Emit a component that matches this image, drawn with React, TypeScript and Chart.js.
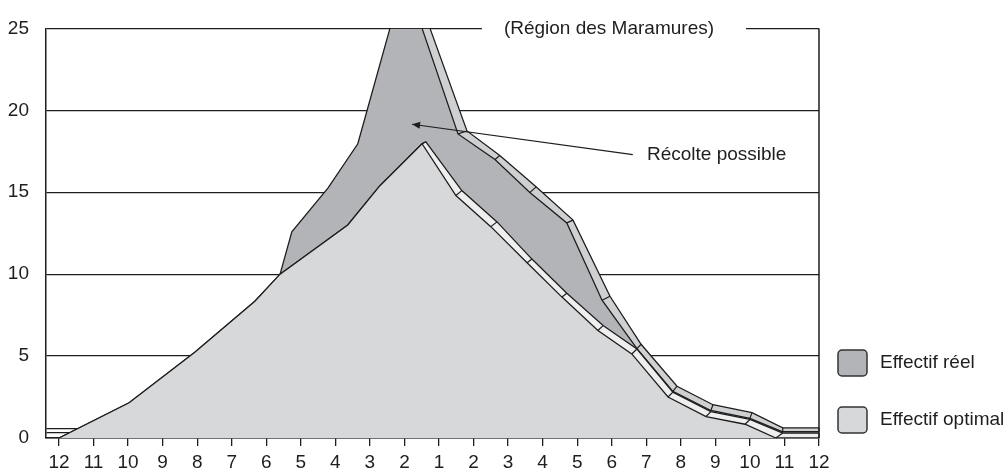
import { useEffect, useRef } from 'react';
import { Chart, registerables } from 'chart.js';

Chart.register(...registerables);

// ---------- data ----------
const xLabels = ['12', '11', '10', '9', '8', '7', '6', '5', '4', '3', '2', '1', '2', '3', '4', '5', '6', '7', '8', '9', '10', '11', '12'];
const yTicks = [0, 5, 10, 15, 20, 25];
const floorLevels = [0.3, 0.6];

// Effectif optimal (light area) – outline
const optimalX = [0, 2.03, 3.94, 5.67, 6.4, 8.36, 9.29, 10.51, 11.49, 12.5, 13.55, 14.56, 15.6, 16.58, 17.63, 18.73, 19.86, 20.75, 22];
const optimalY = [0, 2.15, 5.25, 8.35, 10.0, 13.0, 15.4, 17.96, 14.8, 12.9, 10.7, 8.6, 6.56, 5.13, 2.5, 1.31, 0.84, 0, 0];
// outer line of the light relief band (descending side)
const optimalEdgeX = [10.62, 11.66, 12.68, 13.69, 14.7, 15.75, 16.73, 17.77, 18.87, 20.0, 20.95, 22];
const optimalEdgeY = [18.08, 15.1, 13.19, 10.92, 8.83, 6.86, 5.43, 2.8, 1.61, 1.13, 0.3, 0.3];

// Effectif réel (dark area) – outline
const reelX = [6.4, 6.74, 7.79, 8.65, 9.58, 10.51, 11.55, 12.62, 13.63, 14.7, 15.72, 16.73, 17.77, 18.87, 20.0, 20.95, 22];
const reelY = [10.0, 12.59, 15.27, 17.96, 25, 25, 18.56, 17.0, 14.98, 13.13, 8.41, 5.45, 2.85, 1.68, 1.2, 0.38, 0.38];
// outer line of the dark relief band
const reelEdgeX = [10.74, 11.81, 12.76, 13.81, 14.88, 15.95, 16.85, 17.89, 18.93, 20.06, 20.95, 22];
const reelEdgeY = [25, 18.74, 17.24, 15.33, 13.3, 8.65, 5.72, 3.16, 2.03, 1.55, 0.62, 0.62];

const chartTitle = '(Région des Maramures)';
const titleAt = { x: 15.92, y: 25 };
const noteText = 'Récolte possible';
const noteAt = { x: 17.02, y: 17.3 };
const arrowFrom = { x: 16.61, y: 17.3 };
const arrowTo = { x: 10.22, y: 19.15 };

const legendItems = ['Effectif réel', 'Effectif optimal'];

// ---------- style ----------
const INK = '#1e1e1e';
const LIGHT = '#d7d8da';
const DARK = '#b3b4b7';
const BAND_WHITE = '#efefef';
const BAND_GRAY = '#cfd0d2';
const FONT_FAMILY = '"Liberation Sans", Arial, Helvetica, sans-serif';
const FONT_SIZE = 19;
const FONT = `${FONT_SIZE}px ${FONT_FAMILY}`;

const toPts = (xs: number[], ys: number[]) => xs.map((x, i) => ({ x, y: ys[i] }));

export default function App() {
  const ref = useRef<HTMLCanvasElement>(null);

  useEffect(() => {
    if (!ref.current) return;

    const peakIdx = optimalY.indexOf(Math.max(...optimalY));
    const optimalPts = toPts(optimalX, optimalY);
    const optimalEdgePts = optimalPts.slice(0, peakIdx + 1).concat(toPts(optimalEdgeX, optimalEdgeY));
    const reelPts = toPts(reelX, reelY);
    const topIdx = reelY.lastIndexOf(Math.max(...reelY));
    const reelEdgePts = [{ x: reelX[topIdx], y: reelY[topIdx] }].concat(toPts(reelEdgeX, reelEdgeY));

    const overlay = {
      id: 'overlay',
      afterDatasetsDraw(chart: any) {
        const { ctx, chartArea, scales } = chart;
        const xs = scales.x;
        const ys = scales.y;
        const px = (v: number) => xs.getPixelForValue(v);
        const py = (v: number) => ys.getPixelForValue(v);
        ctx.save();
        ctx.strokeStyle = INK;
        ctx.lineWidth = 1.2;
        const seg = (x1: number, y1: number, x2: number, y2: number) => {
          ctx.beginPath();
          ctx.moveTo(x1, y1);
          ctx.lineTo(x2, y2);
          ctx.stroke();
        };
        // relief band dividers
        optimalEdgeX.forEach((ex, k) => {
          seg(px(optimalX[peakIdx + k]), py(optimalY[peakIdx + k]), px(ex), py(optimalEdgeY[k]));
        });
        reelEdgeX.forEach((ex, k) => {
          if (k === 0) return;
          seg(px(reelX[topIdx + k]), py(reelY[topIdx + k]), px(ex), py(reelEdgeY[k]));
        });
        // right frame
        ctx.lineWidth = 1.5;
        seg(chartArea.right, chartArea.top, chartArea.right, chartArea.bottom);

        // title on the top line
        ctx.font = FONT;
        ctx.textBaseline = 'middle';
        ctx.textAlign = 'center';
        const tw = ctx.measureText(chartTitle).width;
        const tx = px(titleAt.x);
        const ty = py(titleAt.y);
        ctx.fillStyle = '#ffffff';
        ctx.fillRect(tx - tw / 2 - 22, ty - 4, tw + 54, 8);
        ctx.fillStyle = INK;
        ctx.fillText(chartTitle, tx, ty);

        // arrow
        const ax1 = px(arrowFrom.x), ay1 = py(arrowFrom.y);
        const ax2 = px(arrowTo.x), ay2 = py(arrowTo.y);
        ctx.lineWidth = 1.2;
        seg(ax1, ay1, ax2, ay2);
        const ang = Math.atan2(ay2 - ay1, ax2 - ax1);
        const hl = 8, hw = 3.5;
        ctx.beginPath();
        ctx.moveTo(ax2, ay2);
        ctx.lineTo(ax2 - hl * Math.cos(ang) + hw * Math.sin(ang), ay2 - hl * Math.sin(ang) - hw * Math.cos(ang));
        ctx.lineTo(ax2 - hl * Math.cos(ang) - hw * Math.sin(ang), ay2 - hl * Math.sin(ang) + hw * Math.cos(ang));
        ctx.closePath();
        ctx.fill();
        ctx.textAlign = 'left';
        ctx.fillText(noteText, px(noteAt.x), py(noteAt.y));
        ctx.restore();
      },
      afterDraw(chart: any) {
        const { ctx, chartArea } = chart;
        ctx.save();
        const colors = [DARK, LIGHT];
        const bx = chartArea.right + 19;
        legendItems.forEach((label, i) => {
          const by = 350 + i * 57;
          ctx.beginPath();
          ctx.roundRect(bx, by, 29, 26, 4);
          ctx.fillStyle = colors[i];
          ctx.fill();
          ctx.strokeStyle = '#333333';
          ctx.lineWidth = 1.5;
          ctx.stroke();
          ctx.fillStyle = INK;
          ctx.font = FONT;
          ctx.textBaseline = 'middle';
          ctx.textAlign = 'left';
          ctx.fillText(label, bx + 42, by + 13);
        });
        ctx.restore();
      },
    };

    const lineCommon = {
      borderColor: INK,
      borderWidth: 1.3,
      pointRadius: 0,
      pointHoverRadius: 0,
      tension: 0,
    };

    const chart = new Chart(ref.current, {
      type: 'line',
      data: {
        datasets: [
          { ...lineCommon, label: 'Effectif optimal', data: optimalPts, fill: 'origin', backgroundColor: LIGHT },
          { ...lineCommon, label: 'optimal-edge', data: optimalEdgePts, fill: '-1', backgroundColor: BAND_WHITE },
          { ...lineCommon, label: 'Effectif réel', data: reelPts, fill: '-1', backgroundColor: DARK },
          { ...lineCommon, label: 'reel-edge', data: reelEdgePts, fill: '-1', backgroundColor: BAND_GRAY },
        ],
      },
      options: {
        animation: false,
        responsive: false,
        devicePixelRatio: 1,
        layout: { padding: { top: 19, right: 189, left: 0, bottom: 0 } },
        plugins: {
          legend: { display: false },
          tooltip: { enabled: false },
          title: { display: false },
        },
        scales: {
          x: {
            type: 'linear',
            min: -0.376,
            max: 22,
            afterBuildTicks: (axis: any) => {
              axis.ticks = xLabels.map((_, i) => ({ value: i }));
            },
            afterFit: (axis: any) => {
              axis.height = 34;
            },
            ticks: {
              autoSkip: false,
              maxRotation: 0,
              minRotation: 0,
              padding: 5,
              color: INK,
              font: { family: FONT_FAMILY, size: FONT_SIZE },
              callback: (v: any) => xLabels[Math.round(Number(v))] ?? '',
            },
            grid: { display: true, drawOnChartArea: false, drawTicks: true, tickLength: 8, color: INK, lineWidth: 1.3 },
            border: { display: true, color: INK, width: 1.5 },
          },
          y: {
            type: 'linear',
            min: 0,
            max: 25,
            afterBuildTicks: (axis: any) => {
              axis.ticks = [...yTicks, ...floorLevels].sort((a, b) => a - b).map((v) => ({ value: v }));
            },
            afterFit: (axis: any) => {
              axis.width = 46;
            },
            ticks: {
              padding: 17,
              color: INK,
              font: { family: FONT_FAMILY, size: FONT_SIZE },
              callback: (v: any) => (yTicks.includes(Number(v)) ? String(v) : ''),
            },
            grid: { drawTicks: false, color: INK, lineWidth: 1.2 },
            border: { display: true, color: INK, width: 1.5 },
          },
        },
      },
      plugins: [overlay],
    } as any);

    return () => chart.destroy();
  }, []);

  return (
    <div style={{ position: 'fixed', left: 0, top: 0, width: 1008, height: 472, background: '#ffffff' }}>
      <canvas ref={ref} width={1008} height={472} style={{ display: 'block', width: 1008, height: 472 }} />
    </div>
  );
}
